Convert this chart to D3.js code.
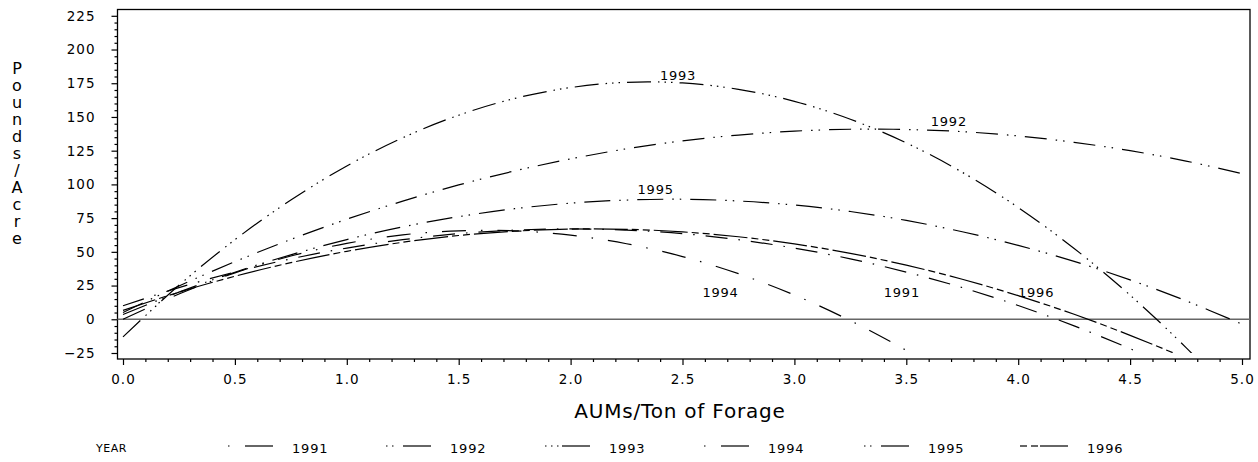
<!DOCTYPE html>
<html>
<head>
<meta charset="utf-8">
<script src="https://cdn.jsdelivr.net/npm/d3@7"></script>
<style>
  body { margin: 0; background: #fff; }
  text { font-family: "DejaVu Sans", sans-serif; fill: #000; }
  .tick text { font-size: 13.5px; letter-spacing: 1px; }
</style>
</head>
<body>
<svg id="chart"></svg>
<script>
// AUMs per ton of forage (x positions of the read-off points)
const xs = [0, 0.25, 0.5, 0.75, 1.0, 1.25, 1.5, 1.75, 2.0, 2.25, 2.5,
            2.75, 3.0, 3.25, 3.5, 3.75, 4.0, 4.25, 4.5, 4.75, 5.0];

// pounds/acre, per year (null = off the chart)
const y1991 = [10, 23.5, 35, 44.8, 52.8, 59, 63.5, 66.1, 67, 66.1, 63.5,
               59, 52.8, 44.8, 35, 23.5, 10.2, -4.9, -21.8, -40, null];
const y1992 = [5, 24.7, 42.7, 59.2, 74.2, 87.6, 99.6, 110, 118.9, 126.4, 132.3,
               136.6, 139.5, 140.9, 140.7, 139.1, 135.9, 131.2, 125, 117.3, 108];
const y1993 = [-13, 25.2, 59, 88.4, 113.7, 134.6, 151.3, 163.7, 171.8, 175.7, 175.2,
               170.5, 161.6, 148.3, 130.8, 109, 82.9, 52.5, 17.9, -21, -64];
const y1994 = [0, 18.7, 34.4, 46.9, 56.3, 62.6, 65.6, 65.6, 62.4, 56, 46.5,
               33.8, 18, -1, -23.1, -48, null, null, null, null, null];
const y1995 = [3.5, 20.1, 34.9, 47.8, 59.1, 68.5, 76.1, 82, 86.1, 88.4, 89,
               87.7, 84.7, 79.9, 73.3, 64.9, 54.8, 42.9, 29.2, 13.7, -3.6];
const y1996 = [6.6, 20.1, 31.9, 42, 50.4, 57.1, 62.1, 65.3, 66.9, 66.7, 64.8,
               61.2, 55.9, 48.9, 40.1, 29.7, 17.5, 3.7, -11.9, -29, -48];

const years = ["1991", "1992", "1993", "1994", "1995", "1996"];
const seriesValues = [y1991, y1992, y1993, y1994, y1995, y1996];

// curve labels inside the plot (data units)
const labelX = [3.48, 3.69, 2.48, 2.67, 2.38, 4.08];
const labelY = [20, 147, 181, 20, 96, 20];

const yMajorTicks = [-25, 0, 25, 50, 75, 100, 125, 150, 175, 200, 225];
const xMajorTicks = [0, 0.5, 1, 1.5, 2, 2.5, 3, 3.5, 4, 4.5, 5];

// SAS-like line patterns: dots and long dashes
const dashes = {
  "1991": "22,11,1.5,11",
  "1992": "22,9,1.5,6,1.5,9",
  "1993": "24,7,1.5,5,1.5,5,1.5,7",
  "1994": "24,15,1.5,15",
  "1995": "26,9,1.5,6,1.5,9",
  "1996": "34,4,7,4,7,4"
};
const legendDots = { "1991": 1, "1992": 2, "1993": 3, "1994": 1, "1995": 2, "1996": 0 };

const width = 1258, height = 462;
const frame = { left: 117.5, right: 1250, top: 9.5, bottom: 359 };

const svg = d3.select("#chart").attr("width", width).attr("height", height);

const x = d3.scaleLinear().domain([0, 5]).range([123, 1242]);
const y = d3.scaleLinear().domain([-25, 225]).range([353, 15.8]);

// minor ticks
const yMinor = d3.range(-25, 226, 5).filter(v => v % 25 !== 0);
const xMinor = d3.range(0, 51, 1).map(v => v / 10).filter(v => Math.round(v * 10) % 5 !== 0);

svg.append("g").attr("transform", `translate(${frame.left},0)`)
  .call(d3.axisLeft(y).tickValues(yMajorTicks).tickSize(6).tickPadding(16)
    .tickFormat(d3.format("d")));
svg.append("g").attr("transform", `translate(${frame.left},0)`)
  .call(d3.axisLeft(y).tickValues(yMinor).tickSize(3).tickFormat(""));

svg.append("g").attr("transform", `translate(0,${frame.bottom})`)
  .call(d3.axisBottom(x).tickValues(xMajorTicks).tickSize(6).tickPadding(9)
    .tickFormat(d3.format(".1f")));
svg.append("g").attr("transform", `translate(0,${frame.bottom})`)
  .call(d3.axisBottom(x).tickValues(xMinor).tickSize(3).tickFormat(""));

svg.selectAll(".domain").remove();
svg.selectAll(".tick line").attr("stroke", "#000").attr("stroke-width", 1.2);

// frame
svg.append("rect")
  .attr("x", frame.left).attr("y", frame.top)
  .attr("width", frame.right - frame.left).attr("height", frame.bottom - frame.top)
  .attr("fill", "none").attr("stroke", "#000").attr("stroke-width", 1.3);

// zero reference line
svg.append("line")
  .attr("x1", frame.left).attr("x2", frame.right)
  .attr("y1", y(0)).attr("y2", y(0))
  .attr("stroke", "#666").attr("stroke-width", 1.5);

// clip curves at -25
svg.append("clipPath").attr("id", "clip")
  .append("rect")
  .attr("x", frame.left).attr("y", frame.top)
  .attr("width", frame.right - frame.left).attr("height", y(-25) - frame.top);

const line = d3.line()
  .defined(d => d[1] !== null)
  .x(d => x(d[0]))
  .y(d => y(d[1]))
  .curve(d3.curveCatmullRom);

const curves = svg.append("g").attr("clip-path", "url(#clip)");
years.forEach((yr, i) => {
  const pts = xs.map((v, j) => [v, seriesValues[i][j]]);
  curves.append("path")
    .datum(pts)
    .attr("d", line)
    .attr("fill", "none")
    .attr("stroke", "#000")
    .attr("stroke-width", 1.2)
    .attr("stroke-dasharray", dashes[yr]);
});

// curve labels
svg.append("g").selectAll("text")
  .data(years)
  .join("text")
  .attr("x", (d, i) => x(labelX[i]))
  .attr("y", (d, i) => y(labelY[i]))
  .attr("text-anchor", "middle")
  .attr("dominant-baseline", "central")
  .attr("font-size", 13)
  .attr("letter-spacing", 0.8)
  .text(d => d);

// axis titles
svg.append("text")
  .attr("x", 680).attr("y", 411)
  .attr("text-anchor", "middle")
  .attr("dominant-baseline", "central")
  .attr("font-size", 20)
  .attr("letter-spacing", 0.8)
  .text("AUMs/Ton of Forage");

const yTitle = "Pounds/Acre".split("");
svg.append("g").selectAll("text")
  .data(yTitle)
  .join("text")
  .attr("x", 17)
  .attr("y", (d, i) => 68 + i * 17)
  .attr("text-anchor", "middle")
  .attr("dominant-baseline", "central")
  .attr("font-size", 16)
  .text(d => d);

// legend
const legendY = 448;
svg.append("text")
  .attr("x", 96).attr("y", legendY)
  .attr("dominant-baseline", "central")
  .attr("font-size", 11)
  .attr("letter-spacing", 0.5)
  .text("YEAR");

const legendTextX = [292, 450, 609, 768, 928, 1087];
years.forEach((yr, i) => {
  const tx = legendTextX[i];
  const g = svg.append("g");
  const n = legendDots[yr];
  for (let k = 0; k < n; k++) {
    g.append("line")
      .attr("x1", tx - 64 + k * 6).attr("x2", tx - 62.5 + k * 6)
      .attr("y1", legendY - 2).attr("y2", legendY - 2)
      .attr("stroke", "#000").attr("stroke-width", 1.2);
  }
  if (yr === "1996") {
    [0, 11].forEach(o => g.append("line")
      .attr("x1", tx - 67 + o).attr("x2", tx - 60 + o)
      .attr("y1", legendY - 2).attr("y2", legendY - 2)
      .attr("stroke", "#000").attr("stroke-width", 1.2));
  }
  g.append("line")
    .attr("x1", tx - 47).attr("x2", tx - 19)
    .attr("y1", legendY - 2).attr("y2", legendY - 2)
    .attr("stroke", "#000").attr("stroke-width", 1.2);
  g.append("text")
    .attr("x", tx).attr("y", legendY)
    .attr("dominant-baseline", "central")
    .attr("font-size", 13)
    .attr("letter-spacing", 0.8)
    .text(yr);
});
</script>
</body>
</html>
